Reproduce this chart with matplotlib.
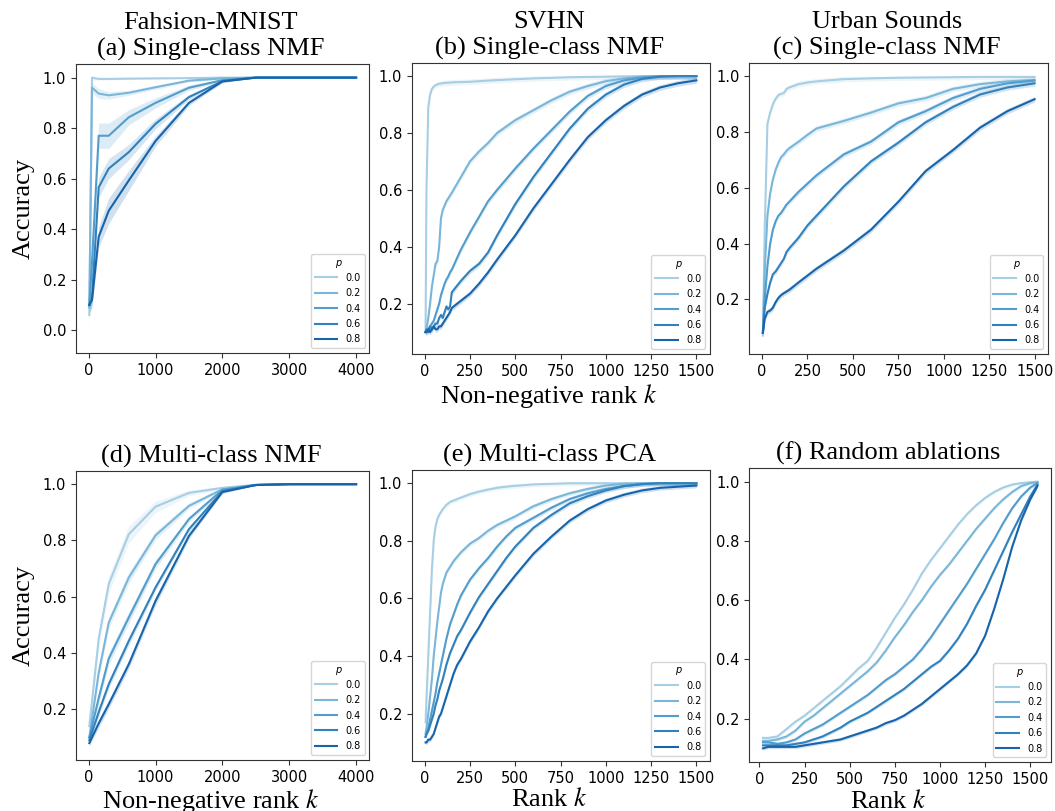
import numpy as np
import matplotlib.pyplot as plt

plt.rcParams['font.family'] = 'DejaVu Sans'
plt.rcParams['mathtext.fontset'] = 'stix'

# hue levels (ablation probability p) and their colours
p_labels = ['0.0', '0.2', '0.4', '0.6', '0.8']
colors = plt.cm.Blues(np.linspace(0.35, 0.8, 5))

# (a) Fashion-MNIST, single-class NMF
k_a = [10, 50, 150, 300, 600, 1000, 1500, 2000, 2500, 3000, 3500, 4000]
a_p00 = [0.06, 1.00, 0.995, 0.995, 0.996, 0.997, 0.998, 1.0, 1.0, 1.0, 1.0, 1.0]
a_p02 = [0.09, 0.96, 0.937, 0.93, 0.94, 0.962, 0.988, 0.997, 1.0, 1.0, 1.0, 1.0]
a_p04 = [0.10, 0.27, 0.77, 0.77, 0.843, 0.90, 0.96, 0.99, 1.0, 1.0, 1.0, 1.0]
a_p06 = [0.10, 0.13, 0.566, 0.64, 0.705, 0.817, 0.923, 0.986, 1.0, 1.0, 1.0, 1.0]
a_p08 = [0.10, 0.12, 0.37, 0.473, 0.593, 0.749, 0.90, 0.985, 1.0, 1.0, 1.0, 1.0]
# confidence band half widths for (a)
a_ci00 = [0.10, 0.01, 0.005, 0.004, 0.003, 0.002, 0.001, 0, 0, 0, 0, 0]
a_ci02 = [0.05, 0.02, 0.02, 0.015, 0.01, 0.008, 0.005, 0.003, 0, 0, 0, 0]
a_ci04 = [0.03, 0.06, 0.05, 0.05, 0.03, 0.02, 0.01, 0.005, 0, 0, 0, 0]
a_ci06 = [0.03, 0.03, 0.04, 0.04, 0.03, 0.02, 0.01, 0.005, 0, 0, 0, 0]
a_ci08 = [0.03, 0.03, 0.04, 0.05, 0.04, 0.02, 0.01, 0.005, 0, 0, 0, 0]

# (b) SVHN, single-class NMF
k_b = [5, 10, 20, 30, 40, 50, 60, 70, 80, 90, 100, 110, 120, 130, 140, 150,
       200, 250, 300, 350, 400, 500, 600, 700, 800, 900, 1000, 1100, 1200, 1300, 1400, 1500]
b_p00 = [0.10, 0.60, 0.89, 0.935, 0.955, 0.963, 0.968, 0.971, 0.973, 0.974,
         0.975, 0.976, 0.976, 0.977, 0.977, 0.978,
         0.979, 0.980, 0.982, 0.984, 0.986,
         0.989, 0.992, 0.994, 0.996, 0.997, 0.998, 0.999, 1.0, 1.0, 1.0, 1.0]
b_p02 = [0.10, 0.11, 0.15, 0.20, 0.26, 0.30, 0.34, 0.35, 0.40, 0.50,
         0.53, 0.545, 0.56, 0.57, 0.58, 0.59,
         0.645, 0.70, 0.735, 0.765, 0.80,
         0.845, 0.88, 0.915, 0.945, 0.965, 0.982, 0.992, 0.998, 1.0, 1.0, 1.0]
b_p04 = [0.10, 0.10, 0.11, 0.12, 0.13, 0.14, 0.16, 0.18, 0.20, 0.23,
         0.25, 0.27, 0.285, 0.295, 0.31, 0.32,
         0.39, 0.45, 0.505, 0.56, 0.60,
         0.675, 0.745, 0.81, 0.875, 0.93, 0.965, 0.985, 0.995, 1.0, 1.0, 1.0]
b_p06 = [0.10, 0.11, 0.10, 0.12, 0.11, 0.12, 0.13, 0.13, 0.15, 0.16,
         0.15, 0.17, 0.19, 0.18, 0.19, 0.24,
         0.28, 0.315, 0.34, 0.38, 0.44,
         0.55, 0.645, 0.73, 0.815, 0.885, 0.935, 0.97, 0.99, 0.998, 1.0, 1.0]
b_p08 = [0.10, 0.10, 0.11, 0.10, 0.11, 0.12, 0.11, 0.11, 0.12, 0.12,
         0.13, 0.14, 0.15, 0.16, 0.17, 0.185,
         0.21, 0.235, 0.27, 0.31, 0.355,
         0.44, 0.535, 0.62, 0.705, 0.785, 0.845, 0.895, 0.935, 0.96, 0.975, 0.985]

# (c) Urban Sounds, single-class NMF
k_c = [5, 15, 30, 45, 60, 75, 90, 105, 120, 135, 150, 200, 250, 300,
       450, 600, 750, 900, 1050, 1200, 1350, 1500]
c_p00 = [0.07, 0.45, 0.83, 0.87, 0.90, 0.92, 0.933, 0.937, 0.94, 0.955, 0.96, 0.972, 0.978, 0.982,
         0.99, 0.993, 0.995, 0.996, 0.997, 0.998, 0.998, 0.998]
c_p02 = [0.08, 0.30, 0.50, 0.58, 0.63, 0.665, 0.69, 0.71, 0.72, 0.733, 0.742, 0.765, 0.79, 0.813,
         0.84, 0.87, 0.903, 0.922, 0.955, 0.972, 0.982, 0.987]
c_p04 = [0.08, 0.20, 0.32, 0.40, 0.45, 0.48, 0.50, 0.51, 0.525, 0.54, 0.55, 0.585, 0.615, 0.645,
         0.72, 0.766, 0.835, 0.875, 0.922, 0.955, 0.975, 0.985]
c_p06 = [0.08, 0.17, 0.22, 0.26, 0.29, 0.30, 0.315, 0.33, 0.345, 0.37, 0.383, 0.42, 0.465, 0.50,
         0.605, 0.695, 0.762, 0.835, 0.89, 0.935, 0.96, 0.975]
c_p08 = [0.08, 0.13, 0.155, 0.16, 0.17, 0.19, 0.205, 0.215, 0.222, 0.228, 0.234, 0.26, 0.285, 0.31,
         0.375, 0.45, 0.55, 0.66, 0.735, 0.816, 0.875, 0.918]

# (d) multi-class NMF
k_d = [10, 150, 300, 600, 1000, 1500, 2000, 2500, 3000, 3500, 4000]
d_p00 = [0.14, 0.45, 0.645, 0.822, 0.92, 0.969, 0.987, 0.998, 1.0, 1.0, 1.0]
d_p02 = [0.10, 0.33, 0.508, 0.668, 0.818, 0.923, 0.982, 0.997, 1.0, 1.0, 1.0]
d_p04 = [0.10, 0.24, 0.38, 0.526, 0.716, 0.876, 0.98, 0.997, 1.0, 1.0, 1.0]
d_p06 = [0.09, 0.19, 0.289, 0.443, 0.633, 0.84, 0.975, 0.997, 1.0, 1.0, 1.0]
d_p08 = [0.08, 0.15, 0.218, 0.36, 0.585, 0.816, 0.972, 0.997, 1.0, 1.0, 1.0]
d_ci00 = [0.02, 0.03, 0.03, 0.03, 0.02, 0.01, 0.005, 0, 0, 0, 0]
d_ci02 = [0.01, 0.02, 0.02, 0.02, 0.015, 0.01, 0.005, 0, 0, 0, 0]
d_ci04 = [0.01, 0.02, 0.02, 0.02, 0.015, 0.01, 0.005, 0, 0, 0, 0]
d_ci06 = [0.01, 0.015, 0.015, 0.015, 0.01, 0.01, 0.005, 0, 0, 0, 0]
d_ci08 = [0.01, 0.015, 0.015, 0.015, 0.015, 0.01, 0.005, 0, 0, 0, 0]

# (e) multi-class PCA
k_e = [5, 10, 20, 30, 40, 50, 60, 70, 80, 90, 100, 120, 140, 160, 180, 200,
       250, 300, 350, 400, 450, 500, 600, 700, 800, 900, 1000, 1100, 1200, 1300, 1400, 1500]
e_p00 = [0.17, 0.25, 0.40, 0.55, 0.70, 0.80, 0.85, 0.875, 0.89, 0.90,
         0.91, 0.925, 0.935, 0.94, 0.945, 0.95,
         0.962, 0.971, 0.978, 0.984, 0.988, 0.991,
         0.996, 0.998, 1.0, 1.0, 1.0, 1.0, 1.0, 1.0, 1.0, 1.0]
e_p02 = [0.13, 0.15, 0.20, 0.26, 0.32, 0.40, 0.46, 0.52, 0.57, 0.62,
         0.65, 0.69, 0.71, 0.73, 0.745, 0.76,
         0.79, 0.81, 0.835, 0.855, 0.87, 0.885,
         0.92, 0.945, 0.965, 0.98, 0.992, 0.998, 1.0, 1.0, 1.0, 1.0]
e_p04 = [0.12, 0.13, 0.15, 0.18, 0.21, 0.24, 0.27, 0.31, 0.34, 0.37,
         0.40, 0.46, 0.51, 0.545, 0.58, 0.61,
         0.665, 0.705, 0.74, 0.78, 0.815, 0.845,
         0.88, 0.915, 0.945, 0.965, 0.98, 0.99, 0.997, 1.0, 1.0, 1.0]
e_p06 = [0.12, 0.13, 0.14, 0.16, 0.18, 0.20, 0.23, 0.25, 0.28, 0.30,
         0.32, 0.37, 0.41, 0.44, 0.47, 0.49,
         0.55, 0.605, 0.65, 0.695, 0.74, 0.78,
         0.845, 0.89, 0.93, 0.955, 0.975, 0.99, 0.997, 1.0, 1.0, 1.0]
e_p08 = [0.10, 0.10, 0.11, 0.11, 0.12, 0.13, 0.15, 0.17, 0.19, 0.20,
         0.22, 0.26, 0.30, 0.34, 0.37, 0.39,
         0.45, 0.50, 0.555, 0.60, 0.64, 0.68,
         0.755, 0.815, 0.87, 0.91, 0.94, 0.96, 0.975, 0.984, 0.988, 0.992]

# (f) random ablations
k_f = [20, 50, 100, 150, 200, 250, 300, 350, 400, 450, 500, 550, 600, 650, 700, 750,
       800, 850, 900, 950, 1000, 1050, 1100, 1150, 1200, 1250, 1300, 1350, 1400, 1450, 1500, 1540]
f_p00 = [0.135, 0.135, 0.14, 0.165, 0.19, 0.21, 0.235, 0.26, 0.285, 0.31, 0.34, 0.37, 0.395, 0.44, 0.49, 0.54,
         0.585, 0.635, 0.69, 0.735, 0.775, 0.815, 0.855, 0.89, 0.92, 0.945, 0.965, 0.98, 0.99, 0.995, 0.998, 1.0]
f_p02 = [0.125, 0.125, 0.13, 0.14, 0.16, 0.19, 0.21, 0.235, 0.26, 0.285, 0.31, 0.335, 0.36, 0.39, 0.43, 0.475,
         0.515, 0.56, 0.60, 0.645, 0.685, 0.72, 0.76, 0.80, 0.84, 0.875, 0.91, 0.94, 0.965, 0.985, 0.995, 0.998]
f_p04 = [0.12, 0.12, 0.115, 0.12, 0.13, 0.15, 0.165, 0.18, 0.20, 0.22, 0.24, 0.26, 0.28, 0.305, 0.33, 0.35,
         0.375, 0.40, 0.435, 0.475, 0.52, 0.565, 0.61, 0.655, 0.705, 0.755, 0.805, 0.86, 0.91, 0.95, 0.98, 0.995]
f_p06 = [0.11, 0.11, 0.11, 0.11, 0.115, 0.12, 0.13, 0.14, 0.155, 0.17, 0.19, 0.205, 0.22, 0.24, 0.26, 0.28,
         0.30, 0.325, 0.35, 0.375, 0.395, 0.43, 0.47, 0.52, 0.58, 0.635, 0.70, 0.765, 0.83, 0.89, 0.95, 0.99]
f_p08 = [0.10, 0.105, 0.105, 0.105, 0.105, 0.11, 0.115, 0.12, 0.125, 0.13, 0.14, 0.15, 0.16, 0.17, 0.185, 0.195,
         0.21, 0.23, 0.25, 0.275, 0.30, 0.325, 0.35, 0.38, 0.42, 0.48, 0.57, 0.67, 0.78, 0.87, 0.94, 0.985]

serif = 'Liberation Serif'
fig = plt.figure(figsize=(10.55, 8.11), dpi=100)


def panel(rect, k, series, ci, xlim, ylim, xticks, yticks, title, xlabel=None, ylabel=None):
    ax = fig.add_axes(rect)
    k = np.array(k)
    for i, vals in enumerate(series):
        vals = np.array(vals)
        if np.ndim(ci) > 0:
            half = np.array(ci[i])
        else:
            half = ci
        lo = vals - half
        hi = np.minimum(vals + half, 1.0)
        ax.fill_between(k, lo, hi, color=colors[i], alpha=0.2, linewidth=0)
        ax.plot(k, vals, color=colors[i], lw=1.5, label=p_labels[i])
    ax.set_xlim(xlim)
    ax.set_ylim(ylim)
    ax.set_xticks(xticks)
    ax.set_yticks(yticks)
    ax.tick_params(labelsize=10.5, color='0.2')
    for s in ax.spines.values():
        s.set_color('0.2')
    ax.set_title(title, fontsize=19, family=serif, x=0.46, pad=6)
    if xlabel:
        ax.set_xlabel(xlabel, fontsize=19, family=serif, x=0.46, labelpad=2)
    if ylabel:
        ax.set_ylabel(ylabel, fontsize=19, family=serif, labelpad=6)
    ax.legend(loc='lower right', fontsize=7, title='p', handlelength=2.3, handletextpad=0.85,
              labelspacing=0.55, title_fontproperties={'style': 'italic', 'size': 7})
    return ax


y_top = [0.2, 0.4, 0.6, 0.8, 1.0]
k_small = [0, 250, 500, 750, 1000, 1250, 1500]
k_large = [0, 1000, 2000, 3000, 4000]

panel([0.0720, 0.5647, 0.2782, 0.3564], k_a, [a_p00, a_p02, a_p04, a_p06, a_p08],
      [a_ci00, a_ci02, a_ci04, a_ci06, a_ci08], (-190, 4200), (-0.09, 1.054), k_large,
      [0.0, 0.2, 0.4, 0.6, 0.8, 1.0], 'Fahsion-MNIST\n(a) Single-class NMF', ylabel='Accuracy')
panel([0.3905, 0.5635, 0.2825, 0.3588], k_b, [b_p00, b_p02, b_p04, b_p06, b_p08],
      0.01, (-70, 1575), (0.023, 1.046), k_small, y_top,
      'SVHN\n(b) Single-class NMF', xlabel='Non-negative rank $k$')
panel([0.7102, 0.5635, 0.2834, 0.3592], k_c, [c_p00, c_p02, c_p04, c_p06, c_p08],
      0.01, (-70, 1575), (0.004, 1.049), k_small, y_top,
      'Urban Sounds\n(c) Single-class NMF')
panel([0.0720, 0.0629, 0.2782, 0.3564], k_d, [d_p00, d_p02, d_p04, d_p06, d_p08],
      [d_ci00, d_ci02, d_ci04, d_ci06, d_ci08], (-190, 4200), (0.02, 1.047), k_large, y_top,
      '(d) Multi-class NMF', xlabel='Non-negative rank $k$', ylabel='Accuracy')
panel([0.3905, 0.0617, 0.2825, 0.3588], k_e, [e_p00, e_p02, e_p04, e_p06, e_p08],
      0.008, (-70, 1575), (0.036, 1.046), k_small, y_top,
      '(e) Multi-class PCA', xlabel='Rank $k$')
panel([0.7102, 0.0601, 0.2862, 0.3625], k_f, [f_p00, f_p02, f_p04, f_p06, f_p08],
      0.006, (-56, 1616), (0.053, 1.045), k_small, y_top,
      '(f) Random ablations', xlabel='Rank $k$')

fig.savefig('out.png', dpi=100)
